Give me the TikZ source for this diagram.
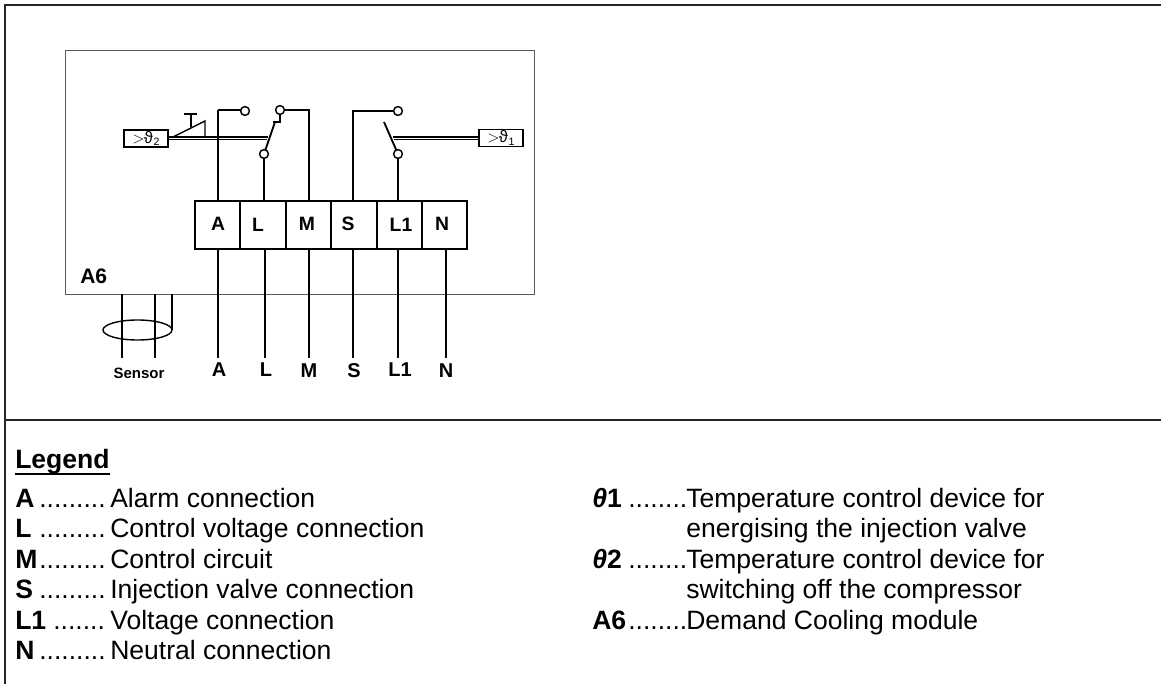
\documentclass[tikz,border=0pt]{standalone}
\usepackage{fontspec}
\usetikzlibrary{shapes.geometric}
\setmainfont{Liberation Sans}
\begin{document}
\begin{tikzpicture}[x=0.75pt,y=-0.75pt,
  wire/.style={draw=black,line width=1.05pt},
  frameline/.style={draw=black!85,line width=1.4pt},
  modbox/.style={draw=black!65,line width=0.6pt},
  term/.style={draw=black,line width=1.9pt,minimum height=36pt,inner sep=0pt,outer sep=0pt,anchor=north west},
  termtxt/.style={inner sep=0pt,font=\fontsize{14.5}{16}\selectfont\bfseries},
  endtxt/.style={inner sep=0pt,font=\fontsize{15}{17}\selectfont\bfseries},
  contact/.style={circle,draw=black,line width=1.1pt,fill=white,minimum size=6.6pt,inner sep=0pt,outer sep=0pt},
  sensebox/.style={draw=black,line width=1.1pt,inner sep=0pt,outer sep=0pt,minimum height=13pt,minimum width=33pt,font=\fontsize{12.5}{14}\selectfont},
  lg/.style={inner sep=0pt,anchor=base west,font=\fontsize{19.9}{22}\selectfont},
]
\useasboundingbox (0,0) rectangle (1161,684);
% frame
\coordinate (fTL) at (5,5); \coordinate (fBL) at (5,684); \coordinate (fTR) at (1161,5);
\coordinate (fML) at (5,420); \coordinate (fMR) at (1161,420);
\draw[frameline] (fBL) -- (fTL) -- (fTR);
\draw[frameline] (fML) -- (fMR);
% module box
\node[modbox,minimum width=351.75pt,minimum height=183pt,inner sep=0pt,outer sep=0pt,anchor=north west] (module) at (65,50) {};
\node[inner sep=0pt,anchor=base west,font=\fontsize{15.75}{18}\selectfont\bfseries] (a6) at (80,284) {A6};
% wires below terminals
\coordinate (wA) at (218,358); \coordinate (wL) at (265,358); \coordinate (wM) at (309,358);
\coordinate (wS) at (353,358); \coordinate (wLi) at (398,358); \coordinate (wN) at (446,358);
% terminal block
\node[term,minimum width=33.75pt] (tA) at (195,201) {};
\node[term,minimum width=34.5pt] (tL) at (240,201) {};
\node[term,minimum width=33.75pt] (tM) at (286,201) {};
\node[term,minimum width=34.5pt] (tS) at (331,201) {};
\node[term,minimum width=33.75pt] (tLi) at (377,201) {};
\node[term,minimum width=33.75pt] (tN) at (422,201) {};
\node[termtxt] (lA) at (218,224) {A};
\node[termtxt] (lL) at (258,224.5) {L};
\node[termtxt] (lM) at (307,224) {M};
\node[termtxt] (lS) at (348,224) {S};
\node[termtxt] (lLi) at (401,225) {L1};
\node[termtxt] (lN) at (442,224) {N};
\draw[wire] (tA.south -| wA) -- (wA);
\draw[wire] (tL.south -| wL) -- (wL);
\draw[wire] (tM.south -| wM) -- (wM);
\draw[wire] (tS.south -| wS) -- (wS);
\draw[wire] (tLi.south -| wLi) -- (wLi);
\draw[wire] (tN.south -| wN) -- (wN);
\node[endtxt] (eA) at (219,370) {A};
\node[endtxt] (eL) at (266,370) {L};
\node[endtxt] (eM) at (309,371) {M};
\node[endtxt] (eS) at (354,371) {S};
\node[endtxt] (eLi) at (400,370) {L1};
\node[endtxt] (eN) at (446,371) {N};
% sensor
\coordinate (s1t) at (122,294); \coordinate (s1b) at (122,358);
\coordinate (s2t) at (155,294); \coordinate (s2b) at (155,358);
\coordinate (s3t) at (172,294); \coordinate (s3b) at (172,330);
\draw[wire] (s1t) -- (s1b);
\draw[wire] (s2t) -- (s2b);
\draw[wire] (s3t) -- (s3b);
\node[ellipse,draw=black,line width=1.05pt,minimum width=51.75pt,minimum height=15pt,inner sep=0pt] (loop) at (137.5,330) {};
\node[inner sep=0pt,font=\fontsize{11.25}{13}\selectfont\bfseries] (sensor) at (139,373) {Sensor};
% contacts
\coordinate (jA) at (218,110); \coordinate (jM) at (309,110); \coordinate (jS) at (353,111);
\coordinate (knee) at (280,122); \coordinate (hook) at (273,122);
\coordinate (bl1) at (275,122); \coordinate (bl2) at (384,122);
\coordinate (pA) at (245,111); \coordinate (pM) at (280,110); \coordinate (pL) at (264,154);
\coordinate (pS) at (398,111); \coordinate (pLi) at (398,154);
\draw[wire,line width=1.4pt] (tA.north -| jA) -- (jA);
\draw[wire] (jA) -- (jA -| pA);
\draw[wire] (tM.north -| jM) -- (jM) -- (pM);
\draw[wire] (tS.north -| jS) -- (jS) -- (pS);
\draw[wire] (tL.north -| pL) -- (pL);
\draw[wire] (tLi.north -| pLi) -- (pLi);
\draw[wire] (pM) -- (knee) -- (hook);
\draw[wire,line width=1.4pt] (bl1) -- (pL);
\draw[wire,line width=1.4pt] (bl2) -- (pLi);
\node[contact] (cA) at (pA) {};
\node[contact] (cM) at (pM) {};
\node[contact] (cL) at (pL) {};
\node[contact] (cS) at (pS) {};
\node[contact] (cLi) at (pLi) {};
% temperature boxes
\node[sensebox] (th2) at (146,138.5) {$>$\kern-0.5pt ϑ\kern0.5pt\raisebox{-2pt}{\fontsize{8}{9}\selectfont 2}};
\node[sensebox] (th1) at (501,138) {$>$\kern-0.5pt ϑ\kern0.5pt\raisebox{-2pt}{\fontsize{8}{9}\selectfont 1}};
% double linkage
\coordinate (ln1) at (268,137); \coordinate (ln2) at (267,139.8);
\coordinate (rn1) at (393,137); \coordinate (rn2) at (394,139.8);
\draw[wire,line width=0.85pt] (th2.east |- ln1) -- (ln1);
\draw[wire,line width=0.85pt] (th2.east |- ln2) -- (ln2);
\draw[wire,line width=0.85pt] (rn1) -- (th1.west |- rn1);
\draw[wire,line width=0.85pt] (rn2) -- (th1.west |- rn2);
% thermal latch
\coordinate (tri1) at (173,137); \coordinate (tri2) at (205,121); \coordinate (tri3) at (205,137);
\coordinate (st1) at (191,114); \coordinate (st2) at (191,127);
\coordinate (bar1) at (184,114); \coordinate (bar2) at (197,114);
\draw[wire] (tri1) -- (tri2) -- (tri3);
\draw[wire] (st1) -- (st2);
\draw[wire] (bar1) -- (bar2);
% legend
\node[lg,font=\fontsize{19.9}{22}\selectfont\bfseries] (leg) at (15,468) {Legend};
\draw[draw=black,line width=1.5pt] ([yshift=-4.5pt]leg.base west) -- ([yshift=-4.5pt]leg.base east);
\node[lg] (k1) at (15,507) {\textbf{A}};
\node[lg] (d1) at (39,507) {.........};
\node[lg] (t1) at (110,507) {Alarm connection};
\node[lg] (k2) at (15,537.5) {\textbf{L}};
\node[lg] (d2) at (39,537.5) {.........};
\node[lg] (t2) at (110,537.5) {Control voltage connection};
\node[lg] (k3) at (15,568) {\textbf{M}};
\node[lg] (d3) at (39,568) {.........};
\node[lg] (t3) at (110,568) {Control circuit};
\node[lg] (k4) at (15,598.5) {\textbf{S}};
\node[lg] (d4) at (39,598.5) {.........};
\node[lg] (t4) at (110,598.5) {Injection valve connection};
\node[lg] (k5) at (15,629) {\textbf{L1}};
\node[lg] (d5) at (53,629) {.......};
\node[lg] (t5) at (110,629) {Voltage connection};
\node[lg] (k6) at (15,659.5) {\textbf{N}};
\node[lg] (d6) at (39,659.5) {.........};
\node[lg] (t6) at (110,659.5) {Neutral connection};
\node[lg] (r1) at (592,507) {\textbf{\textit{θ}1}};
\node[lg] (rd1) at (628,507) {........};
\node[lg] (rt1) at (686,507) {Temperature control device for};
\node[lg] (rt1b) at (686,537.5) {energising the injection valve};
\node[lg] (r2) at (592,568) {\textbf{\textit{θ}2}};
\node[lg] (rd2) at (628,568) {........};
\node[lg] (rt2) at (686,568) {Temperature control device for};
\node[lg] (rt2b) at (686,598.5) {switching off the compressor};
\node[lg] (r3) at (592,629) {\textbf{A6}};
\node[lg] (rd3) at (628,629) {........};
\node[lg] (rt3) at (686,629) {Demand Cooling module};
\end{tikzpicture}
\end{document}
